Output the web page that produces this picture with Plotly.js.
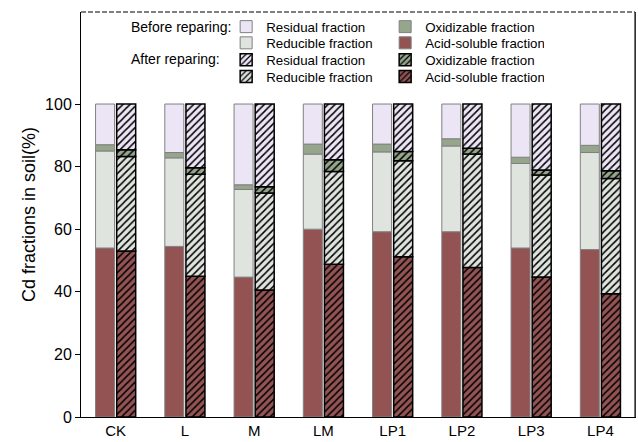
<!DOCTYPE html>
<html>
<head>
<meta charset="utf-8">
<script src="https://cdn.plot.ly/plotly-3.0.1.min.js"></script>
<style>html,body{margin:0;padding:0;background:#fff;}#chart{width:638px;height:442px;}</style>
</head>
<body>
<div id="chart"></div>
<script>
// Data
const categories = ['CK', 'L', 'M', 'LM', 'LP1', 'LP2', 'LP3', 'LP4'];
const fractionNames = ['Acid-soluble fraction', 'Reducible fraction', 'Oxidizable fraction', 'Residual fraction'];
// Before reparing (%)
const acidBefore = [54, 54.5, 44.7, 60, 59.2, 59.2, 54, 53.5];
const reducibleBefore = [31, 28.3, 28, 24, 25.5, 27.4, 27, 31];
const oxidizableBefore = [2, 1.7, 1.5, 3.2, 2.5, 2.3, 2, 2.3];
const residualBefore = [13, 15.5, 25.8, 12.8, 12.8, 11.1, 17, 13.2];
// After reparing (%)
const acidAfter = [53, 45, 40.6, 48.8, 51.2, 47.8, 44.7, 39.4];
const reducibleAfter = [30.2, 32.6, 31, 29.6, 30.7, 36.2, 32.6, 36.8];
const oxidizableAfter = [2.2, 2, 2, 3.8, 2.9, 1.9, 1.6, 2.5];
const residualAfter = [14.6, 20.4, 26.4, 17.8, 15.2, 14.1, 21.1, 21.3];
const yTicks = [0, 20, 40, 60, 80, 100];
const yRange = [0, 129.4];

// Styles
const colors = ['#935353', '#DFE4DE', '#96A68C', '#ECE5F5'];
const FONT = 'Liberation Sans, Arial, sans-serif';

function stackTraces(series, group, hatched) {
  const traces = [];
  let base = categories.map(() => 0);
  series.forEach((vals, i) => {
    const t = {
      type: 'bar',
      x: categories,
      y: vals,
      base: base.slice(),
      name: fractionNames[i],
      offsetgroup: group,
      marker: {
        color: colors[i],
        line: {color: hatched ? '#000000' : '#808080', width: hatched ? 1.5 : 1}
      },
      hoverinfo: 'x+y+name'
    };
    if (hatched) {
      t.marker.pattern = {shape: '/', fgcolor: '#000000', bgcolor: colors[i], size: 5, solidity: 0.3};
    }
    traces.push(t);
    base = base.map((b, k) => b + vals[k]);
  });
  return traces;
}

const before = stackTraces([acidBefore, reducibleBefore, oxidizableBefore, residualBefore], 'before', false);
const after = stackTraces([acidAfter, reducibleAfter, oxidizableAfter, residualAfter], 'after', true);
// legend rows: row1 Residual/Oxidizable (before), row2 Reducible/Acid (before), rows 3-4 same for after
before[3].legend = 'legend'; before[2].legend = 'legend';
before[1].legend = 'legend2'; before[0].legend = 'legend2';
after[3].legend = 'legend3'; after[2].legend = 'legend3';
after[1].legend = 'legend4'; after[0].legend = 'legend4';
before[3].legendrank = 1; before[2].legendrank = 2;
before[1].legendrank = 1; before[0].legendrank = 2;
after[3].legendrank = 1; after[2].legendrank = 2;
after[1].legendrank = 1; after[0].legendrank = 2;

const data = before.concat(after);

function leg(y) {
  return {
    orientation: 'h', x: 0.262, xanchor: 'left', y: y, yanchor: 'middle',
    bgcolor: 'rgba(0,0,0,0)', borderwidth: 0, entrywidth: 114, itemwidth: 30,
    font: {family: FONT, size: 13.3, color: '#000'}, tracegroupgap: 0, traceorder: 'normal'
  };
}

const layout = {
  width: 638, height: 442,
  margin: {l: 81, r: 3, t: 12, b: 25},
  paper_bgcolor: '#fff', plot_bgcolor: '#fff',
  barmode: 'group', bargap: 0.39, bargroupgap: 0.1,
  font: {family: FONT, color: '#000'},
  xaxis: {
    type: 'category', showline: true, linecolor: '#000', linewidth: 1, mirror: false,
    ticks: '', tickfont: {family: FONT, size: 15, color: '#000'}, showgrid: false, zeroline: false
  },
  yaxis: {
    range: yRange, tickvals: yTicks, ticktext: yTicks.map(String),
    showline: true, linecolor: '#000', linewidth: 1, mirror: true,
    ticks: 'outside', ticklen: 5, tickcolor: '#000', tickwidth: 1,
    tickfont: {family: FONT, size: 16, color: '#000'}, showgrid: false, zeroline: false,
    title: {text: 'Cd fractions in soil(%)', font: {family: FONT, size: 18, color: '#000'}, standoff: 4}
  },
  shapes: [
    {type: 'line', xref: 'paper', yref: 'paper', x0: 0, x1: 1, y0: 1, y1: 1,
     line: {color: '#555', width: 1.5, dash: '5px,2px'}, layer: 'above'},
    {type: 'line', xref: 'paper', yref: 'paper', x0: 1, x1: 1, y0: 0, y1: 1,
     line: {color: '#444', width: 1.5}, layer: 'above'}
  ],
  showlegend: true,
  legend: leg(0.963),
  legend2: leg(0.923),
  legend3: leg(0.881),
  legend4: leg(0.840),
  annotations: [
    {text: 'Before reparing:', xref: 'paper', yref: 'paper', x: 0.274, y: 0.962, xanchor: 'right', yanchor: 'middle', showarrow: false, font: {family: FONT, size: 14, color: '#000'}},
    {text: 'After reparing:', xref: 'paper', yref: 'paper', x: 0.254, y: 0.883, xanchor: 'right', yanchor: 'middle', showarrow: false, font: {family: FONT, size: 14, color: '#000'}}
  ]
};

Plotly.newPlot('chart', data, layout, {displayModeBar: false, staticPlot: true});
</script>
</body>
</html>
